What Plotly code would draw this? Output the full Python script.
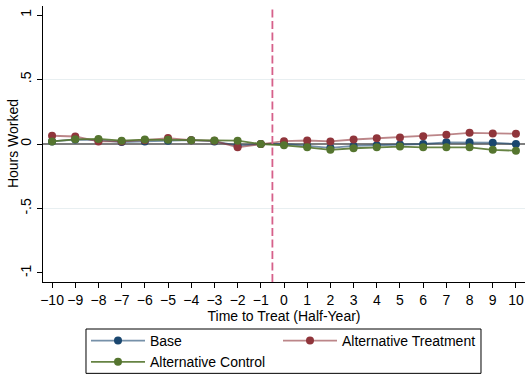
import plotly.graph_objects as go

# Event time (half-years relative to treatment)
periods = list(range(-10, 11))

# Estimated effects on hours worked
base = [0.02, 0.035, 0.03, 0.015, 0.02, 0.025, 0.03, 0.02, -0.013, 0.0,
        0.0, -0.015, -0.03, -0.015, -0.01, -0.003, 0.0, 0.013, 0.013, 0.01, 0.0]
alt_treatment = [0.064, 0.058, 0.02, 0.02, 0.03, 0.046, 0.03, 0.025, -0.026, 0.0,
                 0.022, 0.027, 0.02, 0.035, 0.045, 0.05, 0.06, 0.072, 0.087, 0.082, 0.08]
alt_control = [0.02, 0.036, 0.039, 0.026, 0.034, 0.033, 0.03, 0.028, 0.026, 0.0,
               -0.01, -0.026, -0.045, -0.033, -0.026, -0.02, -0.026, -0.026, -0.026, -0.045, -0.052]

y_ticks = [-1, -0.5, 0, 0.5, 1]
y_tick_labels = ["-1", "-.5", "0", ".5", "1"]
treat_line = -0.5

# name, values, marker colour, line colour, legend column
series = [
    ("Base", base, "#1a476f", "rgba(26,71,111,0.6)", "legend"),
    ("Alternative Treatment", alt_treatment, "#90353b", "rgba(144,53,59,0.6)", "legend2"),
    ("Alternative Control", alt_control, "#55752f", "rgba(85,117,47,0.9)", "legend"),
]

FONT = "Liberation Sans, Arial, sans-serif"

fig = go.Figure()

for name, vals, mcol, lcol, leg in series:
    fig.add_trace(go.Scatter(
        x=periods, y=vals, name=name, mode="lines+markers",
        line=dict(color=lcol, width=1.8),
        marker=dict(color=mcol, size=8),
        legend=leg,
    ))

# light grid at interior ticks
for g in (-0.5, 0.5):
    fig.add_hline(y=g, line=dict(color="#e8eff1", width=1), layer="below")
# reference line at zero
fig.add_hline(y=0, line=dict(color="black", width=1.2), layer="below")
# treatment onset
fig.add_vline(x=treat_line, line=dict(color="#d6608a", width=1.8, dash="8px,3.5px"))

# frame around the legend
fig.add_shape(type="rect", xref="paper", yref="paper",
              x0=0.0892, x1=0.9087, y0=-0.331, y1=-0.1703,
              line=dict(color="black", width=1), fillcolor="rgba(0,0,0,0)")

# y-axis title
fig.add_annotation(text="Hours Worked", xref="paper", yref="paper",
                   x=-0.062, y=0.5, textangle=-90, showarrow=False,
                   font=dict(size=14), xanchor="center", yanchor="middle")

legend_style = dict(
    orientation="v", xref="container", yref="container",
    xanchor="left", yanchor="top",
    borderwidth=0, bgcolor="rgba(0,0,0,0)",
    font=dict(family=FONT, size=14, color="black"),
    tracegroupgap=0, itemwidth=54,
)

fig.update_layout(
    width=529, height=374,
    margin=dict(l=43, r=4, t=6, b=92, autoexpand=False),
    paper_bgcolor="white", plot_bgcolor="white",
    font=dict(family=FONT, size=14, color="black"),
    showlegend=True,
    legend=dict(x=86 / 529, y=1 - 325 / 374, **legend_style),
    legend2=dict(x=278 / 529, y=1 - 325 / 374, **legend_style),
)

fig.update_xaxes(
    range=[-10.39, 10.39], tickmode="array", tickvals=periods,
    showgrid=False, zeroline=False, showline=True, linecolor="black", linewidth=1,
    ticks="outside", ticklen=5, tickcolor="black",
    tickfont=dict(size=14),
    title=dict(text="Time to Treat (Half-Year)", font=dict(size=14), standoff=0),
)
fig.update_yaxes(
    range=[-1.07, 1.07], tickmode="array", tickvals=y_ticks, ticktext=y_tick_labels,
    tickangle=-90,
    showgrid=False, zeroline=False, showline=True, linecolor="black", linewidth=1,
    ticks="outside", ticklen=5, tickcolor="black",
    tickfont=dict(size=14),
)

fig.write_html("out.html")
